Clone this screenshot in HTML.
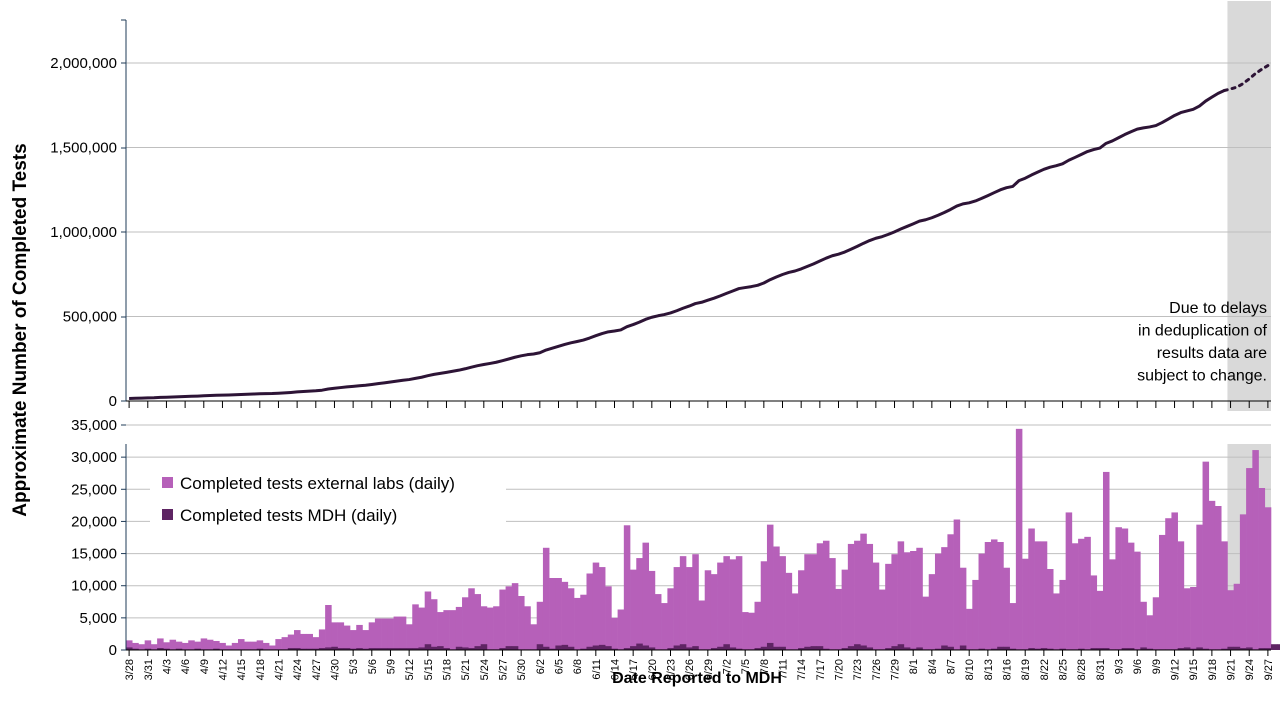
<!DOCTYPE html>
<html><head><meta charset="utf-8"><style>
body{margin:0;background:#fff;width:1280px;height:720px;overflow:hidden}
svg{font-family:"Liberation Sans",sans-serif}
</style></head><body>
<svg id="c" width="1280" height="720"></svg>
<script>
const startDate = [3, 28];
const externalDaily = [1500,1100,900,1500,900,1800,1200,1600,1300,1100,1500,1300,1800,1600,1400,1100,700,1100,1700,1300,1300,1500,1100,700,1700,2000,2400,3100,2500,2500,2000,3200,7000,4300,4300,3800,3100,3900,3100,4300,4900,4900,4900,5200,5200,4000,7100,6600,9100,7900,5900,6200,6200,6700,8200,9600,8700,6800,6600,6800,9400,9900,10400,8400,6800,4000,7500,15900,11200,11200,10600,9600,8100,8600,11900,13600,12900,9900,5000,6300,19400,12500,14300,16700,12300,8700,7300,9600,12900,14600,12900,14900,7700,12400,11800,13600,14600,14100,14600,5900,5800,7500,13800,19500,16100,14600,12000,8800,12400,14900,14900,16600,17000,14300,9500,12500,16500,17000,18100,16500,13600,9400,13400,14900,16900,15200,15400,15900,8300,11800,15000,16000,18000,20300,12800,6400,10900,15000,16800,17200,16800,12800,7300,34400,14200,18900,16900,16900,12600,8800,10900,21400,16600,17300,17600,11600,9200,27700,14100,19100,18900,16700,15300,7500,5400,8200,17900,20500,21400,16900,9600,9800,19500,29300,23200,22400,16900,9300,10300,21100,28300,31100,25200,22200];
const mdhDaily = [400,200,100,200,100,300,200,100,200,100,100,200,100,100,200,100,100,100,100,100,100,200,100,100,100,100,300,300,200,200,200,300,400,500,300,300,200,300,200,300,300,300,300,300,300,300,300,400,900,500,600,300,100,500,400,300,600,900,100,100,300,600,600,100,100,100,900,500,200,700,800,500,100,200,500,700,800,600,200,100,300,600,1000,700,400,100,100,300,700,900,400,600,100,100,300,500,900,400,200,100,100,300,500,1100,500,500,100,100,300,500,600,600,200,100,100,300,600,900,700,400,100,100,300,600,900,400,200,400,100,100,200,700,500,100,700,100,100,200,100,200,500,500,200,100,100,300,200,300,200,100,200,100,100,200,100,300,300,300,100,100,300,300,100,400,200,100,100,100,100,300,400,200,400,200,100,100,200,500,500,300,400,100,300,300,900,900,300,300];
const startCumulative = 15000;
const topTicks = [0,500000,1000000,1500000,2000000];
const bottomTicks = [0,5000,10000,15000,20000,25000,30000,35000];
const provisionalFrom = 176; // index of 9/20 (last firm point)
const shadeFrom = 177;

const svg = document.getElementById('c');
const NS = 'http://www.w3.org/2000/svg';
function mk(t, a, parent){const e=document.createElementNS(NS,t);for(const k in a)e.setAttribute(k,a[k]);(parent||svg).appendChild(e);return e;}
const X0=126, X1=1271, N=externalDaily.length, W=(X1-X0)/N;
const xC=i=>X0+(i+0.5)*W, xL=i=>X0+i*W;
const yTop=v=>401-v/2000000*338;
const yBot=v=>650-v/35000*225;
const fmt=v=>v.toLocaleString('en-US');

// dates
const mdays=[31,28,31,30,31,30,31,31,30,31,30,31];
const dates=[];let m=startDate[0],d=startDate[1];
for(let i=0;i<N;i++){dates.push(m+'/'+d);d++;if(d>mdays[m-1]){d=1;m++;}}

// shading
let e;
e=mk('rect',{x:xL(shadeFrom),y:1,width:X1-xL(shadeFrom),height:410,fill:'#d9d9d9'});


e=mk('rect',{x:xL(shadeFrom),y:444,width:X1-xL(shadeFrom),height:206,fill:'#d9d9d9'});



// gridlines & y labels top
topTicks.forEach(v=>{
  if(v>0){e=mk('line',{x1:X0,x2:X1,y1:yTop(v),y2:yTop(v),stroke:'#bfbfbf','stroke-width':1});
  
  }
  e=mk('text',{x:117,y:yTop(v)+5,'text-anchor':'end','font-size':15,fill:'#000'});e.textContent=fmt(v);
  
  
});
bottomTicks.forEach(v=>{
  if(v>0){e=mk('line',{x1:X0,x2:X1,y1:yBot(v),y2:yBot(v),stroke:'#bfbfbf','stroke-width':1});
  
  }
  e=mk('text',{x:117,y:yBot(v)+5,'text-anchor':'end','font-size':15,fill:'#000'});e.textContent=fmt(v);
  
  
});

// bars
externalDaily.forEach((v,i)=>{
  e=mk('rect',{x:xL(i),y:yBot(v),width:W+0.3,height:650-yBot(v),fill:'#b660b9'});
  
  
});
mdhDaily.forEach((v,i)=>{
  e=mk('rect',{x:xL(i),y:yBot(v),width:W+0.3,height:650-yBot(v),fill:'#5e2463'});
  
  
});

// cumulative line
let cum=startCumulative;const pts=[];
externalDaily.forEach((v,i)=>{if(i>0)cum+=v;pts.push([xC(i),yTop(cum)]);});
const solid=pts.slice(0,provisionalFrom+1).map(p=>p.join(',')).join(' ');
const dotted=pts.slice(provisionalFrom).map(p=>p.join(',')).join(' ');
e=mk('polyline',{points:solid,fill:'none',stroke:'#2d1436','stroke-width':3,'stroke-linejoin':'round'});


e=mk('polyline',{points:dotted,fill:'none',stroke:'#2d1436','stroke-width':3,'stroke-dasharray':'3 5','stroke-linecap':'round'});



// axes
e=mk('line',{x1:X0,x2:X0,y1:20,y2:401,stroke:'#1f3b57','stroke-width':1});


e=mk('line',{x1:X0,x2:X1,y1:401,y2:401,stroke:'#000','stroke-width':1});


e=mk('line',{x1:X0,x2:X0,y1:444,y2:650,stroke:'#1f3b57','stroke-width':1});


e=mk('line',{x1:X0,x2:X1,y1:650,y2:650,stroke:'#000','stroke-width':1});


[20,63,148,232,317,401].forEach(y=>{mk('line',{x1:121,x2:X0,y1:y,y2:y,stroke:'#1f3b57'});});
bottomTicks.forEach(v=>{mk('line',{x1:121,x2:X0,y1:yBot(v),y2:yBot(v),stroke:'#1f3b57'});});

for(let i=0;i<N;i+=3){
  mk('line',{x1:xC(i),x2:xC(i),y1:401,y2:408,stroke:'#000'});
  mk('line',{x1:xC(i),x2:xC(i),y1:650,y2:656,stroke:'#000'});
  e=mk('text',{transform:`translate(${xC(i)+4},659) rotate(-90)`,'text-anchor':'end','font-size':11,fill:'#000'});
  e.textContent=dates[i];
  
  
}

// titles
e=mk('text',{transform:'translate(26,330) rotate(-90)','text-anchor':'middle','font-size':19,'font-weight':'bold',fill:'#000'});
e.textContent='Approximate Number of Completed Tests';


e=mk('text',{x:697,y:683,'text-anchor':'middle','font-size':16,'font-weight':'bold',fill:'#000'});
e.textContent='Date Reported to MDH';



// annotation
['Due to delays','in deduplication of','results data are','subject to change.'].forEach((t,k)=>{
  e=mk('text',{x:1267,y:313+k*22.5,'text-anchor':'end','font-size':16,fill:'#000'});e.textContent=t;
  
  
});

// legend
e=mk('rect',{x:150,y:462,width:356,height:76,fill:'#fff'});


[['Completed tests external labs (daily)','#b660b9',483],['Completed tests MDH (daily)','#5e2463',515]].forEach(([t,c,y])=>{
  e=mk('rect',{x:162,y:y-6,width:11,height:11,fill:c});
  
  
  e=mk('text',{x:180,y:y+6,'font-size':17,fill:'#000'});e.textContent=t;
  
  
});
</script>
</body></html>
